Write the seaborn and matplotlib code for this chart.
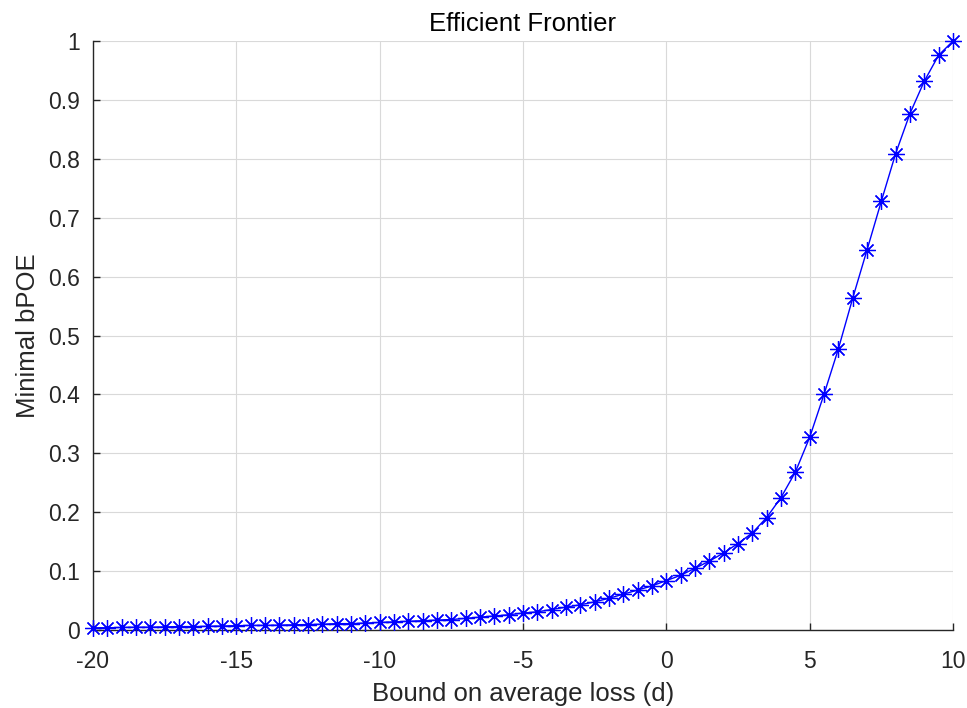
import numpy as np
import pandas as pd
import seaborn as sns
import matplotlib.pyplot as plt

# bound on average loss (d), step 0.5 from -20 to 10
d_values = [-20, -19.5, -19, -18.5, -18, -17.5, -17, -16.5, -16, -15.5,
            -15, -14.5, -14, -13.5, -13, -12.5, -12, -11.5, -11, -10.5,
            -10, -9.5, -9, -8.5, -8, -7.5, -7, -6.5, -6, -5.5,
            -5, -4.5, -4, -3.5, -3, -2.5, -2, -1.5, -1, -0.5,
            0, 0.5, 1, 1.5, 2, 2.5, 3, 3.5, 4, 4.5,
            5, 5.5, 6, 6.5, 7, 7.5, 8, 8.5, 9, 9.5, 10]

bpoe_values = [0.004, 0.004, 0.0045, 0.005, 0.005, 0.0055, 0.006, 0.006, 0.0065, 0.007,
               0.0075, 0.008, 0.008, 0.0085, 0.009, 0.0095, 0.010, 0.011, 0.011, 0.012,
               0.013, 0.014, 0.015, 0.016, 0.017, 0.018, 0.020, 0.022, 0.024, 0.026,
               0.029, 0.031, 0.035, 0.039, 0.043, 0.048, 0.054, 0.061, 0.068, 0.075,
               0.084, 0.093, 0.105, 0.117, 0.131, 0.147, 0.165, 0.191, 0.225, 0.268,
               0.327, 0.400, 0.477, 0.563, 0.645, 0.728, 0.809, 0.877, 0.932, 0.976, 1.0]

df = pd.DataFrame({'d': d_values, 'bpoe': bpoe_values})

sns.set_style('white')
plt.rcParams['font.family'] = ['Liberation Sans', 'DejaVu Sans']
plt.rcParams['axes.unicode_minus'] = False

fig = plt.figure(figsize=(9.67, 7.08), dpi=100)
ax = fig.add_axes([0.096, 0.110, 0.8895, 0.832])

sns.lineplot(x='d', y='bpoe', data=df, ax=ax, color='#0000ff', linewidth=1.0,
             marker=(8, 2, 0), markersize=12, markeredgecolor='#0000ff',
             markeredgewidth=0.9, clip_on=False, zorder=5)

ax.set_xlim(-20, 10)
ax.set_ylim(0, 1)
ax.set_xticks([-20, -15, -10, -5, 0, 5, 10])
ax.set_yticks(np.arange(0, 1.01, 0.1))
ax.set_yticklabels(['0', '0.1', '0.2', '0.3', '0.4', '0.5', '0.6', '0.7', '0.8', '0.9', '1'])

ax.grid(True, color='#d9d9d9', linewidth=0.8)
ax.set_axisbelow(True)
for s in ['top', 'right']:
    ax.spines[s].set_visible(False)
for s in ['left', 'bottom']:
    ax.spines[s].set_color('#262626')
    ax.spines[s].set_linewidth(1.0)

ax.tick_params(direction='in', length=5, width=1.0, colors='#262626',
               labelsize=16.5, left=True, bottom=True)
ax.tick_params(axis='x', pad=14)
ax.tick_params(axis='y', pad=9)

ax.set_title('Efficient Frontier', fontsize=18.5, color='black', pad=7)
ax.set_xlabel('Bound on average loss (d)', fontsize=18.5, color='#262626', labelpad=7)
ax.set_ylabel('Minimal bPOE', fontsize=18.5, color='#262626', labelpad=6)

fig.savefig('out.png', dpi=100)
